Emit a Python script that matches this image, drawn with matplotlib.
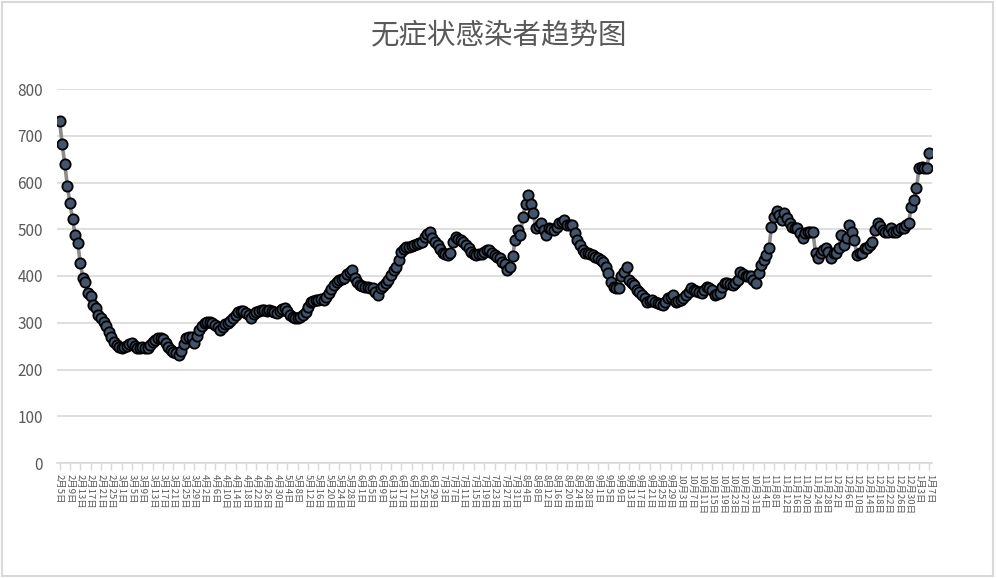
import numpy as np
import matplotlib
matplotlib.use("Agg")
import matplotlib.pyplot as plt
from matplotlib.patches import Rectangle
import datetime

plt.rcParams['font.family'] = ['Noto Sans CJK SC', 'DejaVu Sans']

TITLE = "无症状感染者趋势图"

# daily series, 2月5日 .. 1月7日 (one value per day)
start_day = datetime.date(2021, 2, 5)
counts = [
    732, 682, 640, 593, 556, 522, 488, 470, 428, 396,
    388, 363, 357, 338, 331, 317, 310, 302, 292, 281,
    270, 259, 252, 248, 246, 249, 250, 254, 256, 250,
    246, 247, 249, 247, 246, 252, 259, 263, 267, 268,
    265, 256, 248, 242, 237, 235, 232, 240, 255, 267,
    270, 269, 257, 272, 284, 292, 299, 301, 302, 300,
    295, 290, 284, 290, 297, 299, 303, 310, 316, 323,
    326, 325, 321, 316, 310, 318, 324, 326, 328, 327,
    326, 327, 326, 323, 320, 325, 330, 332, 325, 317,
    313, 310, 310, 313, 317, 322, 334, 345, 347, 349,
    349, 350, 349, 356, 363, 372, 381, 387, 391, 393,
    395, 405, 409, 413, 395, 388, 381, 378, 377, 377,
    375, 374, 366, 359, 374, 378, 384, 392, 402, 412,
    420, 434, 452, 458, 461, 463, 464, 466, 468, 470,
    473, 484, 490, 495, 481, 473, 466, 457, 449, 446,
    445, 450, 472, 484, 480, 478, 472, 466, 459, 452,
    448, 445, 446, 448, 451, 456, 456, 450, 445, 440,
    438, 430, 425, 413, 420, 443, 477, 498, 488, 527,
    555, 573, 555, 534, 502, 507, 513, 498, 488, 502,
    500, 498, 505, 513, 516, 520, 509, 510, 509, 491,
    477, 466, 456, 450, 449, 446, 445, 440, 438, 434,
    431, 420, 406, 388, 377, 375, 374, 399, 409, 420,
    391, 386, 381, 370, 365, 359, 352, 345, 347, 349,
    345, 342, 340, 338, 345, 352, 356, 359, 345, 347,
    349, 354, 359, 366, 374, 370, 367, 365, 363, 370,
    377, 374, 370, 359, 362, 363, 377, 384, 384, 383,
    381, 386, 391, 409, 404, 399, 399, 399, 392, 384,
    406, 424, 434, 445, 459, 505, 527, 538, 530, 520,
    534, 523, 513, 505, 502, 502, 491, 481, 491, 495,
    494, 495, 449, 438, 449, 455, 459, 452, 438, 449,
    449, 459, 488, 466, 481, 509, 495, 477, 445, 449,
    449, 459, 459, 466, 473, 498, 513, 506, 498, 495,
    495, 502, 495, 495, 498, 502, 502, 509, 514, 548,
    563, 588, 630, 634, 632, 632, 663,
]
label_step = 4
y_ticks = [0, 100, 200, 300, 400, 500, 600, 700, 800]

dates = [start_day + datetime.timedelta(days=i) for i in range(len(counts))]
labels = ["%d月%d日" % (d.month, d.day) for d in dates]

GRID = '#D9D9D9'
TXT = '#595959'

fig = plt.figure(figsize=(9.97, 5.78), dpi=100)
ax = fig.add_axes([57 / 997, 1 - 463 / 578, 875 / 997, 374 / 578])

x = np.arange(len(counts))
ax.plot(x, counts, '-', color='#8C8C8C', linewidth=2.6, zorder=2)
ax.plot(x, counts, 'o', markersize=7.4, markerfacecolor='#44546A',
        markeredgecolor='black', markeredgewidth=1.3, zorder=3)

ax.set_xlim(-1, len(counts))
ax.set_ylim(0, 800)
ax.set_yticks(y_ticks)
ax.yaxis.grid(True, color=GRID, linewidth=1.2)
ax.set_axisbelow(True)
for side in ['left', 'right', 'top']:
    ax.spines[side].set_visible(False)
ax.spines['bottom'].set_color(GRID)
ax.spines['bottom'].set_linewidth(1.2)

ax.tick_params(axis='y', length=0, pad=10, labelsize=11, labelcolor=TXT)
ticks = x[::label_step]
ax.set_xticks(ticks)
# only ~10px between labels, so keep the font small enough not to collide
ax.set_xticklabels([labels[i] for i in ticks], rotation=-90, fontsize=6.8,
                   color=TXT, va='top', ha='center')
ax.tick_params(axis='x', length=5, width=1, color=GRID, pad=3)

fig.text(499 / 997, 1 - 35 / 578, TITLE, ha='center', va='center',
         fontsize=20.5, color=TXT)

# light frame around the whole chart, like the excel chart area
fig.patches.append(Rectangle((0.002, 0.004), 0.994, 0.992, transform=fig.transFigure,
                             fill=False, edgecolor=GRID, linewidth=1.5))

fig.savefig('out.png', dpi=100)
